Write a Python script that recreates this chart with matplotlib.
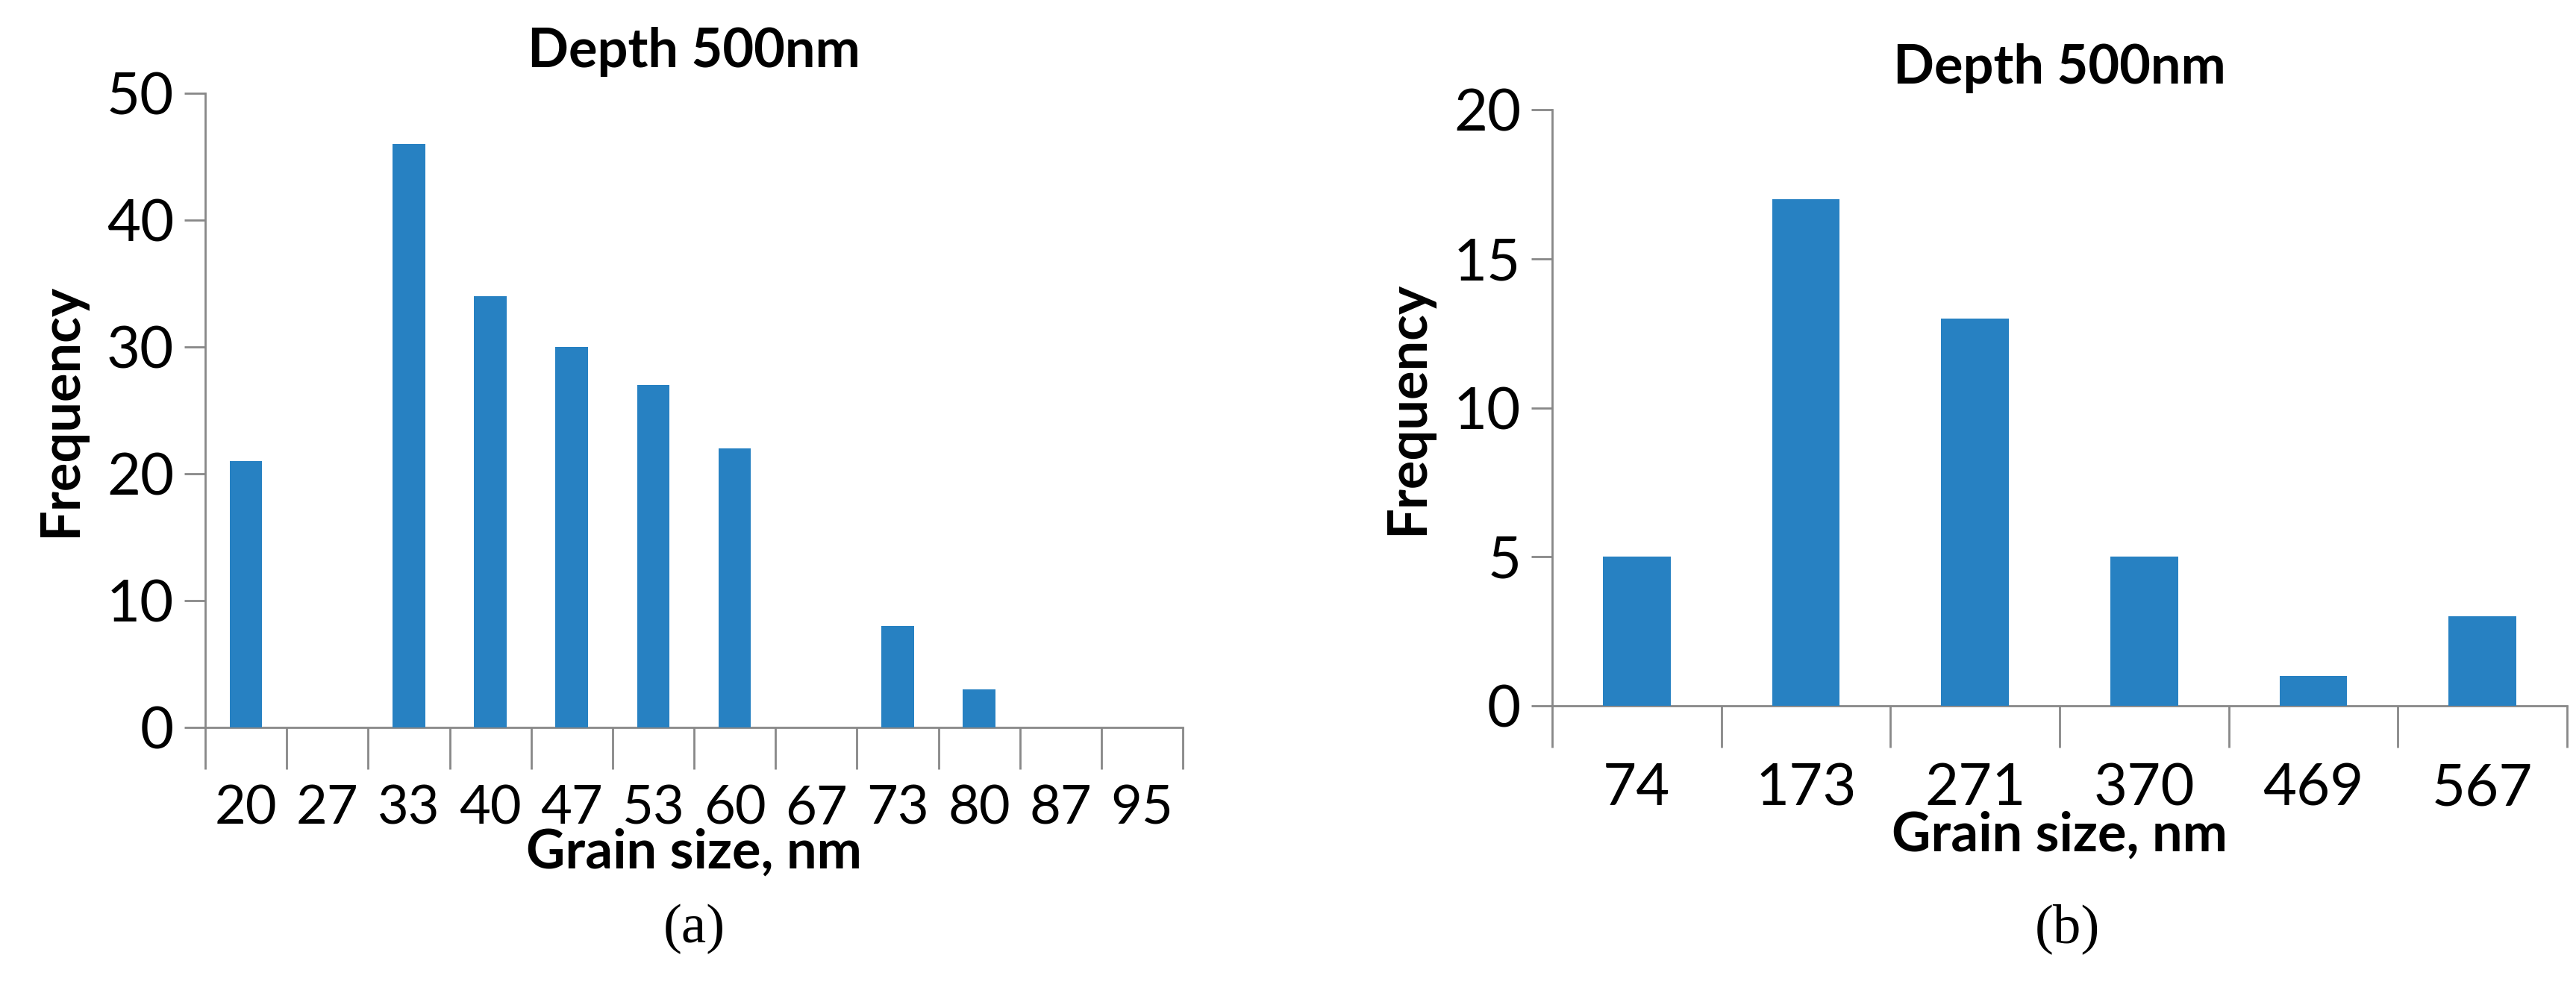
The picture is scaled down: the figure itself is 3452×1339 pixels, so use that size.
import matplotlib
matplotlib.use("Agg")
import matplotlib.pyplot as plt
import numpy as np

plt.rcParams["font.family"] = ["Lato", "DejaVu Sans"]

# panel (a)
cats_a = ["20", "27", "33", "40", "47", "53", "60", "67", "73", "80", "87", "95"]
freq_a = [21, 0, 46, 34, 30, 27, 22, 0, 8, 3, 0, 0]

# panel (b)
cats_b = ["74", "173", "271", "370", "469", "567"]
freq_b = [5, 17, 13, 5, 1, 3]

BLUE = "#2781c2"
GRID = "#888888"

fig = plt.figure(figsize=(34.52, 13.39), dpi=100)
ax1 = fig.add_axes([275 / 3452, 1 - 975 / 1339, 1310 / 3452, 850 / 1339])
ax2 = fig.add_axes([2080 / 3452, 1 - 946 / 1339, 1360 / 3452, 799 / 1339])


def style(ax, cats, vals, ymax, ystep, tsize):
    x = np.arange(len(cats))
    ax.bar(x, vals, width=0.4, color=BLUE, zorder=3)
    ax.set_xlim(-0.5, len(cats) - 0.5)
    ax.set_ylim(0, ymax)
    ax.set_yticks(np.arange(0, ymax + 1, ystep))
    ax.set_xticks(x)
    ax.set_xticklabels(cats)
    ax.set_xticks(np.arange(-0.5, len(cats)), minor=True)
    ax.tick_params(axis="x", which="major", length=0, pad=55, labelsize=tsize)
    ax.tick_params(axis="x", which="minor", length=40, width=2, color=GRID, direction="out")
    ax.tick_params(axis="y", length=20, width=2, color=GRID, labelsize=56, pad=10)
    for s in ["top", "right"]:
        ax.spines[s].set_visible(False)
    for s in ["left", "bottom"]:
        ax.spines[s].set_color(GRID)
        ax.spines[s].set_linewidth(2)
    ax.set_title("Depth 500nm", fontsize=52, fontweight="bold", pad=25)
    ax.set_xlabel("Grain size, nm", fontsize=52, fontweight="bold", labelpad=-5)
    ax.set_ylabel("Frequency", fontsize=52, fontweight="bold", labelpad=20)


style(ax1, cats_a, freq_a, 50, 10, 52)
style(ax2, cats_b, freq_b, 20, 5, 56)

fig.text(930 / 3452, 1 - 1245 / 1339, "(a)", fontsize=54, ha="center", va="center",
         family="Liberation Serif")
fig.text(2770 / 3452, 1 - 1245 / 1339, "(b)", fontsize=54, ha="center", va="center",
         family="Liberation Serif")

fig.savefig("out.png", dpi=100)
